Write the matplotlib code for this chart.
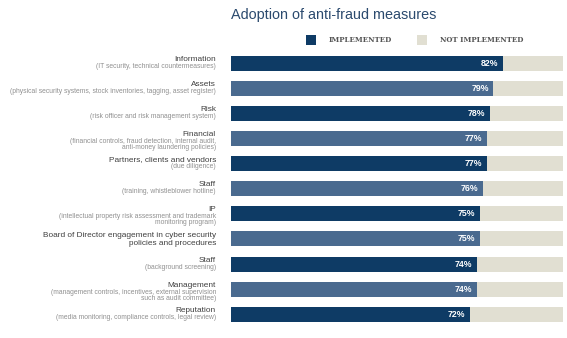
import matplotlib
matplotlib.use("Agg")
import matplotlib.pyplot as plt
from matplotlib.patches import Rectangle

categories = ["Information", "Assets", "Risk", "Financial",
              "Partners, clients and vendors", "Staff", "IP",
              "Board of Director engagement in cyber security\npolicies and procedures",
              "Staff", "Management", "Reputation"]
details = ["(IT security, technical countermeasures)",
           "(physical security systems, stock inventories, tagging, asset register)",
           "(risk officer and risk management system)",
           "(financial controls, fraud detection, internal audit,\nanti-money laundering policies)",
           "(due diligence)",
           "(training, whistleblower hotline)",
           "(intellectual property risk assessment and trademark\nmonitoring program)",
           "",
           "(background screening)",
           "(management controls, incentives, external supervision\nsuch as audit committee)",
           "(media monitoring, compliance controls, legal review)"]
implemented = [82, 79, 78, 77, 77, 76, 75, 75, 74, 74, 72]

navy = "#0e3b65"
steel = "#4a6a8f"
sand = "#e1dfd2"
px = 0.72  # points per pixel at 100 dpi

plt.rcParams["font.family"] = ["Liberation Sans", "DejaVu Sans"]

fig = plt.figure(figsize=(5.67, 3.38), dpi=100)
fig.patch.set_facecolor("white")
ax = fig.add_axes([230.5 / 567, 1 - 326.7 / 338, 332.5 / 567, 275.7 / 338])

ypos = list(range(len(categories)))
not_impl = [100 - v for v in implemented]
colors = [navy if i % 2 == 0 else steel for i in ypos]
ax.barh(ypos, implemented, height=0.6, color=colors, linewidth=0)
ax.barh(ypos, not_impl, left=implemented, height=0.6, color=sand, linewidth=0)

for i, v in enumerate(implemented):
    ax.annotate(f"{v}%", xy=(v, i), xytext=(-4.5 * px, 0), textcoords="offset points",
                ha="right", va="center", color="white", fontsize=6.3, fontweight="bold")

    main = categories[i]
    if details[i]:
        ax.annotate(main, xy=(0, i), xytext=(-14.5 * px, 4 * px), textcoords="offset points",
                    ha="right", va="center", color="#404040", fontsize=5.95,
                    annotation_clip=False)
        for k, line in enumerate(details[i].split("\n")):
            ax.annotate(line, xy=(0, i), xytext=(-14.5 * px, (-3 - 6 * k) * px),
                        textcoords="offset points", ha="right", va="center",
                        color="#909090", fontsize=4.9, annotation_clip=False)
    else:
        for k, line in enumerate(main.split("\n")):
            ax.annotate(line, xy=(0, i), xytext=(-14.5 * px, (3 - 7.5 * k) * px),
                        textcoords="offset points", ha="right", va="center",
                        color="#404040", fontsize=5.95, annotation_clip=False)

ax.set_xlim(0, 100)
ax.set_ylim(len(categories) - 0.5, -0.5)
ax.axis("off")

# title
fig.text(231 / 567, 1 - 15 / 338, "Adoption of anti-fraud measures", ha="left", va="center",
         fontsize=10.4, color="#2b4a6e")

# legend
for x0, c, label in [(306, navy, "IMPLEMENTED"), (416.7, sand, "NOT IMPLEMENTED")]:
    fig.add_artist(Rectangle((x0 / 567, 1 - 45.3 / 338), 10.3 / 567, 10 / 338,
                             transform=fig.transFigure, color=c, linewidth=0))
    fig.text((x0 + 23) / 567, 1 - 40.5 / 338, label, ha="left", va="center",
             fontsize=5, fontweight="bold", family="DejaVu Serif", color="#555555")

fig.savefig("out.png", dpi=100)
